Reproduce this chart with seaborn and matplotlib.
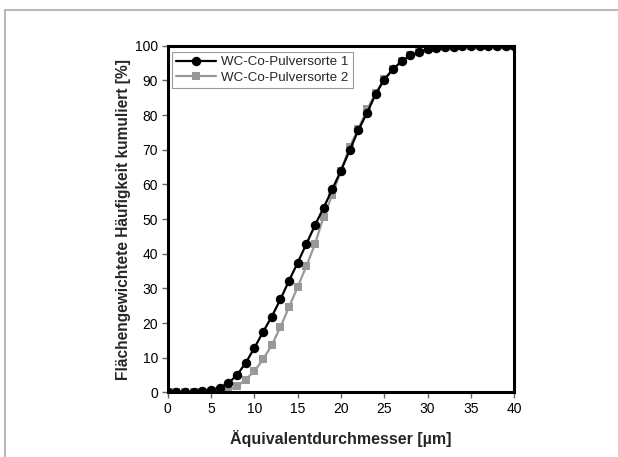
import matplotlib
matplotlib.use("Agg")
import matplotlib.pyplot as plt
import numpy as np
import pandas as pd
import seaborn as sns
from matplotlib.lines import Line2D

# Äquivalentdurchmesser in µm
durchmesser = list(range(0, 41))

sorte1 = [0.1, 0.1, 0.1, 0.2, 0.3, 0.6, 1.4, 2.7, 5.0, 8.5,
          12.8, 17.4, 21.8, 26.8, 32.2, 37.4, 42.8, 48.2, 53.3, 58.6,
          64.0, 69.8, 75.6, 80.6, 86.0, 90.2, 93.2, 95.5, 97.2, 98.2,
          99.0, 99.4, 99.6, 99.7, 99.8, 99.9, 99.9, 100.0, 100.0, 100.0, 100.0]
sorte2 = [0.0, 0.0, 0.0, 0.0, 0.0, 0.0, 0.2, 0.8, 1.7, 3.7,
          6.1, 9.5, 13.6, 18.8, 24.6, 30.4, 36.4, 42.8, 50.7, 57.0,
          64.0, 70.8, 76.0, 81.6, 86.3, 90.5, 93.2, 95.5, 97.2, 98.2,
          99.0, 99.4, 99.6, 99.7, 99.8, 99.9, 99.9, 100.0, 100.0, 100.0, 100.0]
namen = ["WC-Co-Pulversorte 1", "WC-Co-Pulversorte 2"]

df = pd.DataFrame({
    "d": durchmesser * 2,
    "wert": sorte1 + sorte2,
    "sorte": [namen[0]] * len(sorte1) + [namen[1]] * len(sorte2),
})

sns.set_style("ticks")
plt.rcParams["font.family"] = ["Liberation Sans", "DejaVu Sans"]

fig = plt.figure(figsize=(6.18, 4.57), dpi=100)
ax = fig.add_axes([0.2714, 0.1414, 0.5607, 0.7586])

sns.lineplot(data=df[df.sorte == namen[1]], x="d", y="wert", ax=ax,
             color="#999999", marker="s", markersize=5.8, markeredgewidth=0,
             linewidth=1.6, label=namen[1], zorder=2)
sns.lineplot(data=df[df.sorte == namen[0]], x="d", y="wert", ax=ax,
             color="black", marker="o", markersize=6.8, markeredgewidth=0,
             linewidth=1.6, label=namen[0], zorder=3)

ax.set_xlim(0, 40)
ax.set_ylim(0, 100)
ax.set_xticks(np.arange(0, 41, 5))
ax.set_yticks(np.arange(0, 101, 10))
ax.tick_params(axis="both", direction="out", length=4, width=1,
               labelsize=10, pad=3, labelcolor="black", color="#666666")
for sp in ax.spines.values():
    sp.set_linewidth(2.2)
    sp.set_color("black")

ax.set_xlabel("Äquivalentdurchmesser [µm]", fontsize=11.5, fontweight="bold", labelpad=10)
ax.set_ylabel("Flächengewichtete Häufigkeit kumuliert [%]", fontsize=11.2,
              fontweight="bold", labelpad=3)

handles, labels = ax.get_legend_handles_labels()
order = [labels.index(n) for n in namen]
leg = ax.legend([handles[i] for i in order], [labels[i] for i in order],
                loc="upper left", bbox_to_anchor=(0.005, 0.99), fancybox=False,
                frameon=True, edgecolor="#999999", framealpha=1,
                fontsize=9.6, handlelength=3.0, handletextpad=0.4,
                borderpad=0.3, labelspacing=0.25, borderaxespad=0.2)
leg.get_frame().set_linewidth(0.8)

# page frame
fig.add_artist(Line2D([5 / 618, 1], [1 - 10 / 457, 1 - 10 / 457],
                      transform=fig.transFigure, color="#aaaaaa", linewidth=1.2))
fig.add_artist(Line2D([5 / 618, 5 / 618], [0, 1 - 10 / 457],
                      transform=fig.transFigure, color="#aaaaaa", linewidth=1.2))

fig.savefig("out.png", dpi=100)
